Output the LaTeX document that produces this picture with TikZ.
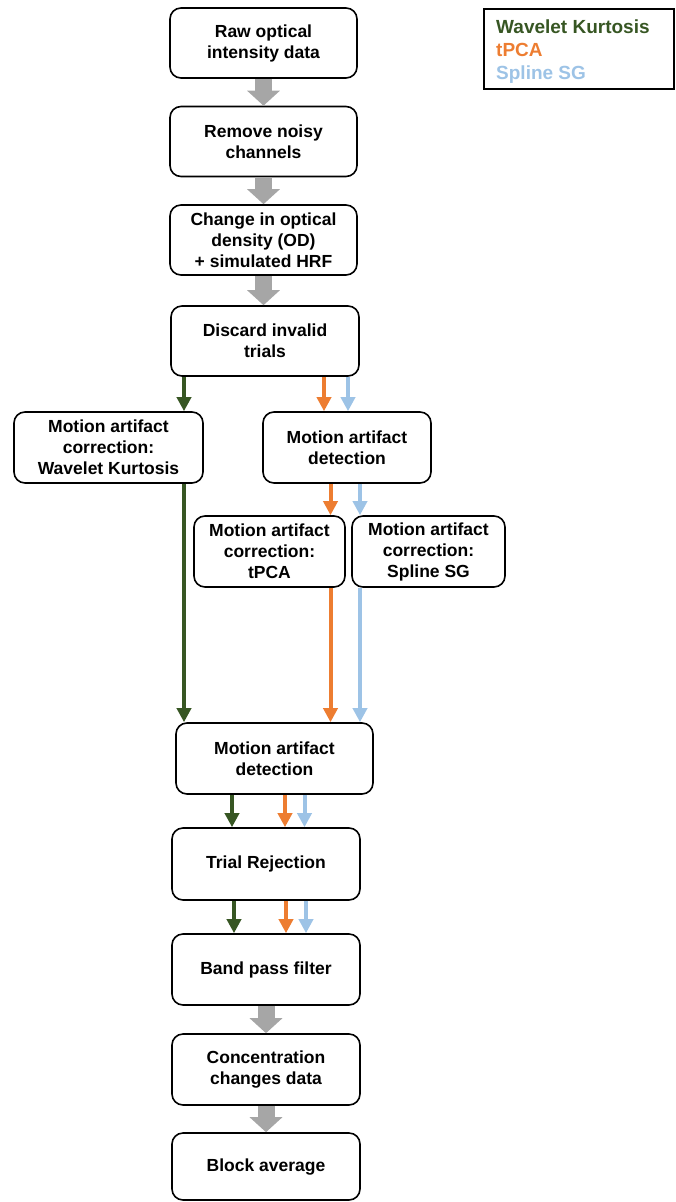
\documentclass[tikz,border=0pt]{standalone}
\usepackage{fontspec}
\setmainfont{Liberation Sans}
\usetikzlibrary{arrows.meta}
\definecolor{wkgreen}{HTML}{375623}
\definecolor{tpcaorange}{HTML}{ED7D31}
\definecolor{splineblue}{HTML}{9DC3E6}
\definecolor{flowgray}{HTML}{A6A6A6}
\begin{document}
\begin{tikzpicture}[x=1pt, y=-1pt,
	stepbox/.style={draw, line width=1.6pt, rounded corners=11pt, align=center, inner sep=0pt,
		minimum width=187pt, minimum height=70pt, font=\bfseries\fontsize{17.5}{21}\selectfont},
	legtext/.style={anchor=base west, inner sep=0pt, font=\bfseries\fontsize{19}{23}\selectfont},
	grayarrow/.style={draw=flowgray, line width=17pt, -{Triangle[width=32pt,length=15pt]}},
	colarrow/.style={line width=4pt, -{Triangle[width=14pt,length=14pt]}}]
	\useasboundingbox (0,0) rectangle (675,1202);
	% main steps
	\node[stepbox] (raw) at (263.5,43) {Raw optical\\intensity data};
	\node[stepbox] (noisy) at (263.5,141.5) {Remove noisy\\channels};
	\node[stepbox] (od) at (263.5,240) {Change in optical\\density (OD)\\+ simulated HRF};
	\node[stepbox, minimum width=188pt] (discard) at (265,341) {Discard invalid\\trials};
	\node[stepbox, minimum width=189pt, minimum height=71pt] (wkcorr) at (108.5,447.5) {Motion artifact\\correction:\\Wavelet Kurtosis};
	\node[stepbox, minimum width=168pt, minimum height=71pt] (detect) at (347,447.5) {Motion artifact\\detection};
	\node[stepbox, minimum width=151pt, minimum height=71pt] (tpcacorr) at (269.5,551.5) {Motion artifact\\correction:\\tPCA};
	\node[stepbox, minimum width=153pt, minimum height=71pt] (splcorr) at (428.5,551.5) {Motion artifact\\correction:\\Spline SG};
	\node[stepbox, minimum width=197pt, minimum height=71pt] (detect2) at (274.5,758.5) {Motion artifact\\detection};
	\node[stepbox, minimum width=188pt, minimum height=72pt] (reject) at (266,864) {Trial Rejection};
	\node[stepbox, minimum width=188pt, minimum height=71pt] (band) at (266,969.5) {Band pass filter};
	\node[stepbox, minimum width=188pt, minimum height=71pt] (conc) at (266,1069.5) {Concentration\\changes data};
	\node[stepbox, minimum width=188pt, minimum height=67pt] (block) at (266,1166.5) {Block average};
	% legend
	\node[draw, line width=1.6pt, minimum width=190pt, minimum height=80pt] (legend) at (579,49) {};
	\node[legtext, text=wkgreen] (legwk) at (496,33) {Wavelet Kurtosis};
	\node[legtext, text=tpcaorange] (legtpca) at (496,56) {tPCA};
	\node[legtext, text=splineblue] (legspl) at (496,79) {Spline SG};
	% gray arrows
	\draw[grayarrow] (raw.south) -- (noisy.north);
	\draw[grayarrow] (noisy.south) -- (od.north);
	\draw[grayarrow] (od.south) -- (od.south |- discard.north);
	\draw[grayarrow] (band.south) -- (conc.north);
	\draw[grayarrow] (conc.south) -- (block.north);
	% coloured arrows
	\coordinate (gx1) at (184,0);
	\coordinate (ox1) at (324,0);
	\coordinate (bx1) at (348,0);
	\coordinate (ox2) at (330.5,0);
	\coordinate (bx2) at (360,0);
	\coordinate (gx3) at (232,0);
	\coordinate (ox3) at (285,0);
	\coordinate (bx3) at (304.5,0);
	\coordinate (gx4) at (234,0);
	\coordinate (ox4) at (286,0);
	\coordinate (bx4) at (306,0);
	\draw[colarrow, wkgreen] (discard.south -| gx1) -- (wkcorr.north -| gx1);
	\draw[colarrow, tpcaorange] (discard.south -| ox1) -- (detect.north -| ox1);
	\draw[colarrow, splineblue] (discard.south -| bx1) -- (detect.north -| bx1);
	\draw[colarrow, tpcaorange] (detect.south -| ox2) -- (tpcacorr.north -| ox2);
	\draw[colarrow, splineblue] (detect.south -| bx2) -- (splcorr.north -| bx2);
	\draw[colarrow, wkgreen] (wkcorr.south -| gx1) -- (detect2.north -| gx1);
	\draw[colarrow, tpcaorange] (tpcacorr.south -| ox2) -- (detect2.north -| ox2);
	\draw[colarrow, splineblue] (splcorr.south -| bx2) -- (detect2.north -| bx2);
	\draw[colarrow, wkgreen] (detect2.south -| gx3) -- (reject.north -| gx3);
	\draw[colarrow, tpcaorange] (detect2.south -| ox3) -- (reject.north -| ox3);
	\draw[colarrow, splineblue] (detect2.south -| bx3) -- (reject.north -| bx3);
	\draw[colarrow, wkgreen] (reject.south -| gx4) -- (band.north -| gx4);
	\draw[colarrow, tpcaorange] (reject.south -| ox4) -- (band.north -| ox4);
	\draw[colarrow, splineblue] (reject.south -| bx4) -- (band.north -| bx4);
\end{tikzpicture}
\end{document}
